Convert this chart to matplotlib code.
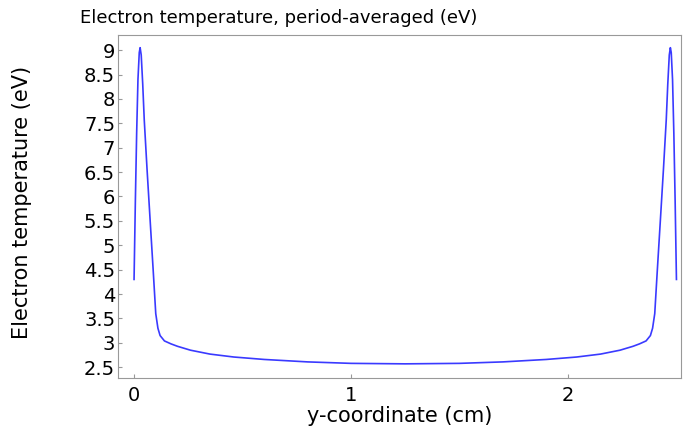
import matplotlib
matplotlib.use("Agg")
import matplotlib.pyplot as plt
import numpy as np

# y-coordinate (cm) and electron temperature (eV), left half
y_left = [0.0, 0.006, 0.012, 0.018, 0.024, 0.028, 0.033, 0.04, 0.047, 0.06, 0.074,
          0.088, 0.1, 0.11, 0.12, 0.14, 0.17, 0.2, 0.26, 0.35, 0.46, 0.6, 0.8, 1.0, 1.25]
t_left = [4.3, 5.9, 7.3, 8.4, 8.95, 9.05, 8.9, 8.3, 7.57, 6.55, 5.52,
          4.5, 3.6, 3.3, 3.15, 3.04, 2.98, 2.93, 2.85, 2.77, 2.71, 2.66, 2.61, 2.58, 2.57]
gap = 2.5
y_cm = y_left + [gap - v for v in reversed(y_left[:-1])]
temp = t_left + list(reversed(t_left[:-1]))

xticks = [0, 1, 2]
yticks = [2.5, 3, 3.5, 4, 4.5, 5, 5.5, 6, 6.5, 7, 7.5, 8, 8.5, 9]
ytick_labels = ["2.5", "3", "3.5", "4", "4.5", "5", "5.5", "6", "6.5", "7", "7.5", "8", "8.5", "9"]

plt.rcParams['font.family'] = ['DejaVu Sans']
fig = plt.figure(figsize=(6.85, 4.28), dpi=100)
ax = fig.add_axes([118/685, 50/428, (681-118)/685, (378-35)/428])
ax.plot(y_cm, temp, color="#3a3aff", lw=1.2)
ax.set_xlim(-0.074, 2.521)
ax.set_ylim(2.28, 9.31)
ax.set_xticks(xticks)
ax.set_xticklabels([str(v) for v in xticks], fontsize=14)
ax.set_yticks(yticks)
ax.set_yticklabels(ytick_labels, fontsize=14)
ax.tick_params(axis="y", direction="in", length=3, color="#999999", pad=2)
ax.tick_params(axis="x", direction="in", length=3, color="#999999", pad=6)
for s in ax.spines.values():
    s.set_color("#999999")
    s.set_linewidth(0.8)
ax.set_xlabel("y-coordinate (cm)", fontsize=15)
ax.xaxis.set_label_coords(0.5, -0.083)
ax.set_ylabel("Electron temperature (eV)", fontsize=15)
ax.yaxis.set_label_coords(-0.153, 0.513)
fig.text(80/685, 1 - 18/428, "Electron temperature, period-averaged (eV)",
         fontsize=13, ha="left", va="center")
fig.savefig("out.png", dpi=100)
